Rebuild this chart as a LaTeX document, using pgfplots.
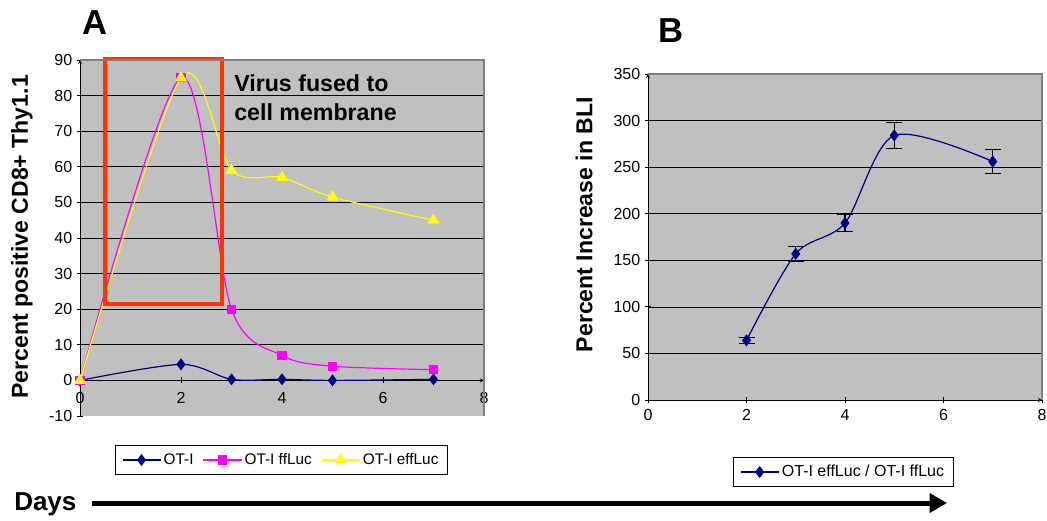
\documentclass[border=0pt]{standalone}
\usepackage{fontspec}
\setmainfont{Liberation Sans}
\usepackage{pgfplots}
\pgfplotsset{compat=1.18}
\usetikzlibrary{arrows.meta}

\definecolor{bggray}{RGB}{192,192,192}
\definecolor{framegray}{RGB}{128,128,128}
\definecolor{navy}{RGB}{0,0,128}
\definecolor{pink}{RGB}{255,0,255}
\definecolor{yel}{RGB}{255,255,0}
\definecolor{boxred}{RGB}{255,51,0}

\pgfplotsset{
  chartbase/.style={
    scale only axis,
    anchor=south west,
    axis background/.style={fill=bggray},
    axis line style={-, black},
    tick style={black, line width=0.6pt},
    major tick length=4.5pt,
    tick align=outside,
    ymajorgrids,
    grid style={black, line width=0.5pt},
    extra y tick style={grid=none},
    /pgf/number format/assume math mode=true,
    tick label style={font=\fontsize{12}{13}\selectfont},
    ylabel style={font=\fontsize{17.3}{20}\bfseries\selectfont, anchor=center},
    legend style={draw=black, line width=0.6pt, font=\fontsize{11.5}{13}\selectfont,
      inner xsep=5pt, inner ysep=4pt},
    legend image code/.code={\draw[mark repeat=2,mark phase=2]
      plot coordinates {(0cm,0cm) (0.5cm,0cm) (1cm,0cm)};},
    after end axis/.code={\draw[framegray, line width=0.8pt]
      (rel axis cs:0,1) -- (rel axis cs:1,1) -- (rel axis cs:1,0);},
  },
}

\begin{document}
\begin{tikzpicture}
\path[use as bounding box] (0,0) rectangle (785.25pt,-390.75pt);

% panel A
\begin{axis}[chartbase,
  at={(60pt,-312pt)}, width=303pt, height=267pt,
  xmin=0, xmax=8, ymin=-10, ymax=90,
  clip=false,
  axis x line=middle, axis y line=left,
  hide obscured x ticks=false, hide obscured y ticks=false,
  xtick={0,2,...,8}, ytick={0,10,...,80}, extra y ticks={-10,90},
  x tick label style={anchor=north, yshift=-3pt},
  ylabel={Percent positive CD8+ Thy1.1},
  ylabel style={at={(axis description cs:-0.1436,0.503)}},
  legend columns=3,
  legend style={at={(0.4988,-0.1236)}, anchor=center,
    /tikz/every even column/.append style={column sep=5pt}},
]
\addplot[navy, line width=0.9pt, smooth, mark=diamond*, mark size=3.8pt,
  mark options={fill=navy, draw=navy}]
  coordinates {(0,0) (2,4.5) (3,0.3) (4,0.3) (5,0) (7,0.3)};
\addlegendentry{OT-I}
\addplot[pink, line width=0.9pt, smooth, mark=square*, mark size=3pt,
  mark options={fill=pink, draw=pink}]
  coordinates {(0,0) (2,85) (3,20) (4,7) (5,4) (7,3)};
\addlegendentry{OT-I ffLuc}
\addplot[yel, line width=0.9pt, smooth, mark=triangle*, mark size=4.3pt,
  mark options={fill=yel, draw=yel}]
  coordinates {(0,0) (2,85) (3,59) (4,57) (5,51.5) (7,45)};
\addlegendentry{OT-I effLuc}
\draw[boxred, line width=3pt] (axis cs:0.5,21.6) rectangle (axis cs:2.81,90.3);
\end{axis}

% panel B
\begin{axis}[chartbase,
  at={(486pt,-300pt)}, width=295.5pt, height=244.5pt,
  xmin=0, xmax=8, ymin=0, ymax=350,
  axis x line=bottom, axis y line=left,
  xtick={0,2,...,8}, ytick={0,50,...,300}, extra y ticks={350},
  x tick label style={yshift=-1pt},
  ylabel={Percent Increase in BLI},
  ylabel style={at={(axis description cs:-0.162,0.538)}},
  legend style={at={(0.496,-0.221)}, anchor=center, font=\fontsize{12}{14}\selectfont},
]
\addplot[navy, line width=0.9pt, smooth, mark=diamond*, mark size=3.8pt,
  mark options={fill=navy, draw=navy},
  error bars/.cd, y dir=both, y explicit,
  error bar style={black, line width=0.8pt},
  error mark options={black, line width=0.8pt, rotate=90, mark size=6pt}]
  coordinates {(2,64) +- (0,3) (3,157) +- (0,8) (4,190) +- (0,9.5)
               (5,284) +- (0,14) (7,256) +- (0,12.5)};
\addlegendentry{OT-I effLuc / OT-I ffLuc}
\end{axis}

% panel letters and annotations
\node[font=\fontsize{26}{30}\bfseries\selectfont, inner sep=0] at (71.25pt,-16.9pt) {A};
\node[font=\fontsize{26}{30}\bfseries\selectfont, inner sep=0] at (503pt,-23.3pt) {B};
\node[anchor=north west, align=left, inner sep=0,
  font=\fontsize{17.4}{21.75}\bfseries\selectfont] at (175.5pt,-55.5pt)
  {Virus fused to\\cell membrane};
\node[anchor=base west, inner sep=0, font=\fontsize{19.5}{22}\bfseries\selectfont]
  at (10.5pt,-382.5pt) {Days};
\draw[line width=3.75pt, -{Triangle[length=13pt,width=14pt]}]
  (69pt,-377.25pt) -- (710.25pt,-377.25pt);
\end{tikzpicture}
\end{document}
